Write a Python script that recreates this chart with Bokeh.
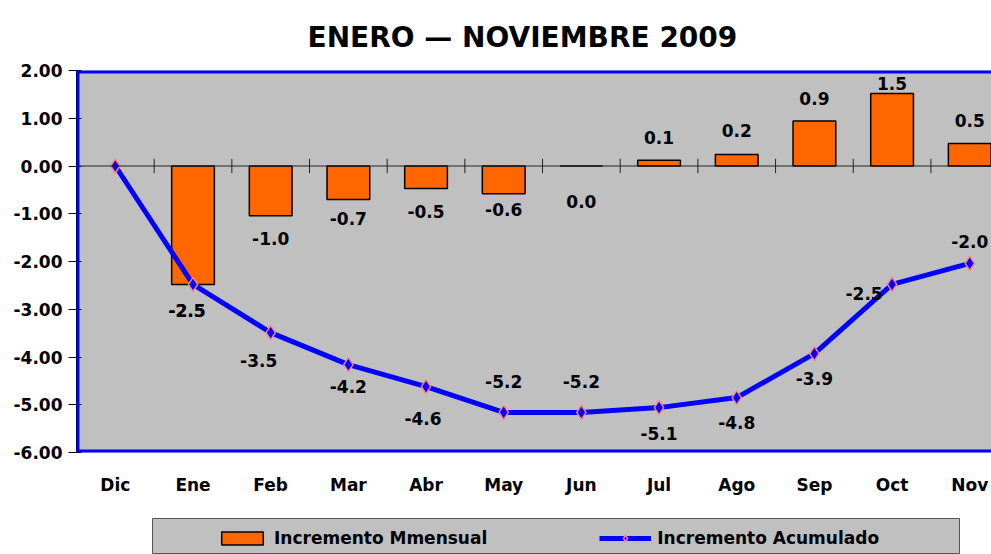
from bokeh.plotting import figure
from bokeh.layouts import column
from bokeh.models import (Range1d, FixedTicker, NumeralTickFormatter, Span, Legend,
                          LegendItem)
from bokeh.embed import file_html
from bokeh.resources import INLINE
from bokeh.core.properties import value

# ---------------- data ----------------
months = ["Dic", "Ene", "Feb", "Mar", "Abr", "May", "Jun", "Jul", "Ago", "Sep", "Oct", "Nov"]
mensual = [-2.48, -1.04, -0.70, -0.47, -0.58, 0.0, 0.12, 0.24, 0.94, 1.52, 0.47]   # Ene..Nov
acumulado = [0.0, -2.48, -3.49, -4.16, -4.62, -5.16, -5.16, -5.06, -4.85, -3.93, -2.48, -2.04]
y_ticks = [2, 1, 0, -1, -2, -3, -4, -5, -6]
title_text = "ENERO \u2014 NOVIEMBRE 2009"
legend_labels = ["Incremento Mmensual", "Incremento Acumulado"]

# ---------------- styles (label pixel offsets) ----------------
bar_dx = [-6, 0, 0, 0, 0, 0, 0, 0, 0, 0, 0]
bar_dy = [26, 23, 19, 23, 16, 35, -23, -24, -23, -10, -23]
line_dx = [-6, -12, 0, -3, 0, 0, 0, 0, 0, -28, 0]
line_dy = [26, 28, 22, 32, -31, -31, 26, 25, 25, 9, -22]

FONT = "DejaVu Sans"
BLUE = "#0000FF"
ORANGE = "#FF6600"
GRAY = "#C0C0C0"

p = figure(width=991, height=512, output_backend="svg", toolbar_location=None,
           x_range=Range1d(-0.5, 11.28), y_range=Range1d(-6, 2),
           min_border_left=76, min_border_right=0, min_border_top=70, min_border_bottom=60)

p.background_fill_color = GRAY
p.border_fill_color = "white"
p.outline_line_color = None
p.grid.visible = False

p.title.text = title_text
p.title.text_font = FONT
p.title.text_font_size = "28px"
p.title.text_font_style = "bold"
p.title.text_color = "black"
p.title.align = "left"
p.title.offset = 231
p.title.standoff = 30
p.title.vertical_align = "top"

# axes
p.yaxis.ticker = FixedTicker(ticks=y_ticks)
p.yaxis.formatter = NumeralTickFormatter(format="0.00")
p.yaxis.major_label_text_font = FONT
p.yaxis.major_label_text_font_size = "17px"
p.yaxis.major_label_text_font_style = "bold"
p.yaxis.major_label_text_color = "black"
p.yaxis.major_tick_in = 5
p.yaxis.major_tick_out = 8
p.yaxis.minor_tick_line_color = None
p.yaxis.axis_line_color = "black"
p.yaxis.major_label_standoff = 6

p.xaxis.ticker = FixedTicker(ticks=list(range(len(months))))
p.xaxis.major_label_overrides = {i: m for i, m in enumerate(months)}
p.xaxis.major_label_text_font = FONT
p.xaxis.major_label_text_font_size = "17px"
p.xaxis.major_label_text_font_style = "bold"
p.xaxis.major_label_text_color = "black"
p.xaxis.axis_line_color = None
p.xaxis.major_tick_line_color = None
p.xaxis.minor_tick_line_color = None
p.xaxis.major_label_standoff = 16

# zero line with category-boundary ticks
p.add_layout(Span(location=0, dimension="width", line_color="#222222", line_width=1))
bx = [i + 0.5 for i in range(len(months) - 1)]
p.segment(x0=bx, x1=bx, y0=[-0.15] * len(bx), y1=[0.15] * len(bx),
          line_color="#222222", line_width=1)

# bars
bar_x = list(range(1, len(months)))
p.vbar(x=bar_x, top=mensual, bottom=0, width=0.55,
       fill_color=ORANGE, line_color="black", line_width=1.5)

# line + markers
xs = list(range(len(months)))
p.line(xs, acumulado, line_color=BLUE, line_width=5)
p.scatter(xs, acumulado, marker="diamond", size=14, fill_color=BLUE,
          line_color="#FF8080", line_width=1.5)

# labels
p.text(x=bar_x, y=mensual, text=[f"{v:.1f}" for v in mensual],
       x_offset=bar_dx, y_offset=bar_dy,
       text_font=value(FONT), text_font_size="17px", text_font_style="bold",
       text_align="center", text_baseline="middle", text_color="black")
p.text(x=xs[1:], y=acumulado[1:], text=[f"{v:.1f}" for v in acumulado[1:]],
       x_offset=line_dx, y_offset=line_dy,
       text_font=value(FONT), text_font_size="17px", text_font_style="bold",
       text_align="center", text_baseline="middle", text_color="black")

# frame borders (left, top, bottom) in blue
p.add_layout(Span(location=-0.5, dimension="height", line_color=BLUE, line_width=6))
p.add_layout(Span(location=2, dimension="width", line_color=BLUE, line_width=6))
p.add_layout(Span(location=-6, dimension="width", line_color=BLUE, line_width=6))

# ---------------- legend box (separate small panel) ----------------
lg = figure(width=884, height=36, output_backend="svg", toolbar_location=None,
            x_range=Range1d(0, 1), y_range=Range1d(0, 1),
            min_border=0, margin=(6, 0, 0, 76))
lg.axis.visible = False
lg.grid.visible = False
lg.background_fill_color = GRAY
lg.outline_line_color = "#555555"
lg.outline_line_width = 1
# hidden copies of the series, used only to draw the legend glyphs
r_bar = lg.vbar(x=bar_x, top=mensual, width=0.55, fill_color=ORANGE,
                line_color="black", line_width=1.5, visible=False)
r_line = lg.line(xs, acumulado, line_color=BLUE, line_width=5, visible=False)
r_pt = lg.scatter(xs, acumulado, marker="diamond", size=14, fill_color=BLUE,
                  line_color="#FF8080", line_width=1.5, visible=False)
legend = Legend(items=[LegendItem(label=legend_labels[0], renderers=[r_bar]),
                       LegendItem(label=legend_labels[1], renderers=[r_line, r_pt])],
                orientation="horizontal", location=(64, 6),
                padding=6, spacing=112, glyph_width=52, glyph_height=16,
                label_standoff=6, label_text_font=FONT, label_text_font_size="17px",
                label_text_font_style="bold", label_text_color="black",
                inactive_fill_alpha=0,
                background_fill_alpha=0, border_line_color=None, margin=0)
lg.add_layout(legend, "center")

layout = column(p, lg, spacing=0)
open("out.html", "w").write(file_html(layout, INLINE))
